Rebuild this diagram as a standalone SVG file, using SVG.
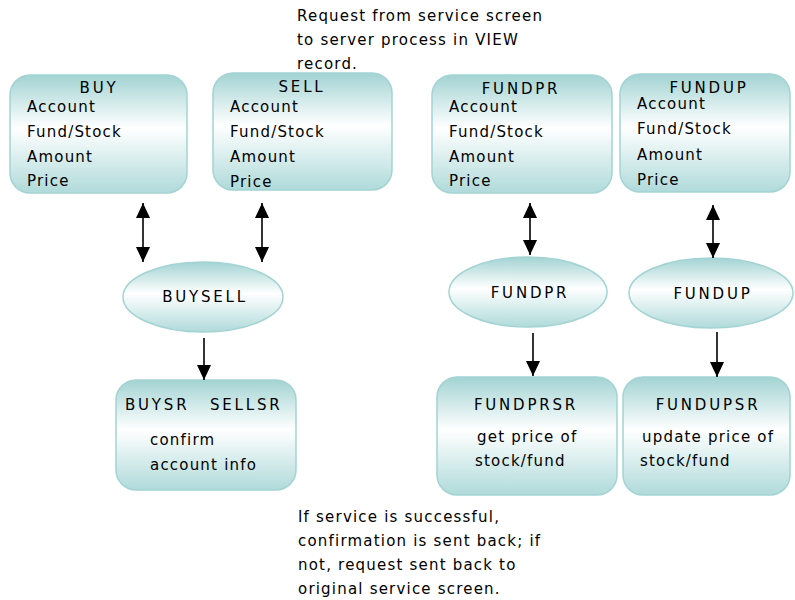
<svg xmlns="http://www.w3.org/2000/svg" width="795" height="600" viewBox="0 0 795 600">
<defs>
<linearGradient id="g" x1="0" y1="0" x2="0" y2="1">
<stop offset="0" stop-color="#a3d3d3"/>
<stop offset="0.45" stop-color="#ffffff"/>
<stop offset="1" stop-color="#b0dada"/>
</linearGradient>
<marker id="ah" viewBox="0 0 15 14" refX="15" refY="7" markerWidth="15" markerHeight="14" markerUnits="userSpaceOnUse" orient="auto-start-reverse">
<path d="M0,0 L15,7 L0,14 z" fill="#000"/>
</marker>
<style>
.box{fill:url(#g);stroke:#a3d3d3;stroke-width:1.5}
text{font-family:"DejaVu Sans",Verdana,sans-serif;font-size:15px;letter-spacing:1.2px;fill:#000}
.c{text-anchor:middle}
.t{letter-spacing:2.8px}
.con{stroke:#000;stroke-width:1.6;fill:none}
</style>
</defs>
<g id="note-top">
<text x="297" y="21">Request from service screen</text>
<text x="297" y="45">to server process in VIEW</text>
<text x="297" y="69">record.</text>
</g>
<g id="BUY">
<rect class="box" x="10" y="75" width="177" height="118" rx="20"/>
<text class="c t" x="99" y="93">BUY</text>
<text x="27" y="112">Account</text>
<text x="27" y="137">Fund/Stock</text>
<text x="27" y="162">Amount</text>
<text x="27" y="186">Price</text>
</g>
<g id="SELL">
<rect class="box" x="213" y="73" width="179" height="117" rx="20"/>
<text class="c t" x="302" y="92">SELL</text>
<text x="230" y="112">Account</text>
<text x="230" y="137">Fund/Stock</text>
<text x="230" y="162">Amount</text>
<text x="230" y="187">Price</text>
</g>
<g id="FUNDPR-screen">
<rect class="box" x="432" y="75" width="180" height="118" rx="20"/>
<text class="c t" x="521" y="94">FUNDPR</text>
<text x="449" y="112">Account</text>
<text x="449" y="137">Fund/Stock</text>
<text x="449" y="162">Amount</text>
<text x="449" y="186">Price</text>
</g>
<g id="FUNDUP-screen">
<rect class="box" x="620" y="74" width="170" height="118" rx="20"/>
<text class="c t" x="709" y="93">FUNDUP</text>
<text x="637" y="109">Account</text>
<text x="637" y="134">Fund/Stock</text>
<text x="637" y="160">Amount</text>
<text x="637" y="185">Price</text>
</g>
<g id="BUYSELL">
<ellipse class="box" cx="203" cy="297" rx="80" ry="35"/>
<text class="c t" x="205" y="302">BUYSELL</text>
</g>
<g id="FUNDPR">
<ellipse class="box" cx="528" cy="292" rx="79" ry="35"/>
<text class="c t" x="530" y="298">FUNDPR</text>
</g>
<g id="FUNDUP">
<ellipse class="box" cx="711" cy="293" rx="82" ry="35"/>
<text class="c t" x="713" y="299">FUNDUP</text>
</g>
<g id="BUYSR-SELLSR">
<rect class="box" x="116" y="380" width="180" height="110" rx="20"/>
<text class="t" x="125" y="410">BUYSR</text>
<text class="t" x="210" y="410">SELLSR</text>
<text x="150" y="445">confirm</text>
<text x="150" y="470">account info</text>
</g>
<g id="FUNDPRSR">
<rect class="box" x="437" y="377" width="180" height="118" rx="20"/>
<text class="c t" x="526" y="410">FUNDPRSR</text>
<text x="477" y="442">get price of</text>
<text x="475" y="466">stock/fund</text>
</g>
<g id="FUNDUPSR">
<rect class="box" x="623" y="377" width="167" height="118" rx="20"/>
<text class="c t" x="708" y="410">FUNDUPSR</text>
<text x="642" y="442">update price of</text>
<text x="640" y="466">stock/fund</text>
</g>
<g id="connectors">
<line class="con" x1="143" y1="203" x2="143" y2="262" marker-start="url(#ah)" marker-end="url(#ah)"/>
<line class="con" x1="262" y1="203" x2="262" y2="262" marker-start="url(#ah)" marker-end="url(#ah)"/>
<line class="con" x1="204" y1="338" x2="204" y2="380" marker-end="url(#ah)"/>
<line class="con" x1="530" y1="203" x2="530" y2="255" marker-start="url(#ah)" marker-end="url(#ah)"/>
<line class="con" x1="533" y1="333" x2="533" y2="376" marker-end="url(#ah)"/>
<line class="con" x1="713" y1="205" x2="713" y2="258" marker-start="url(#ah)" marker-end="url(#ah)"/>
<line class="con" x1="717" y1="332" x2="717" y2="377" marker-end="url(#ah)"/>
</g>
<g id="note-bottom">
<text x="298" y="522">If service is successful,</text>
<text x="298" y="546">confirmation is sent back; if</text>
<text x="298" y="570">not, request sent back to</text>
<text x="298" y="594">original service screen.</text>
</g>
</svg>
